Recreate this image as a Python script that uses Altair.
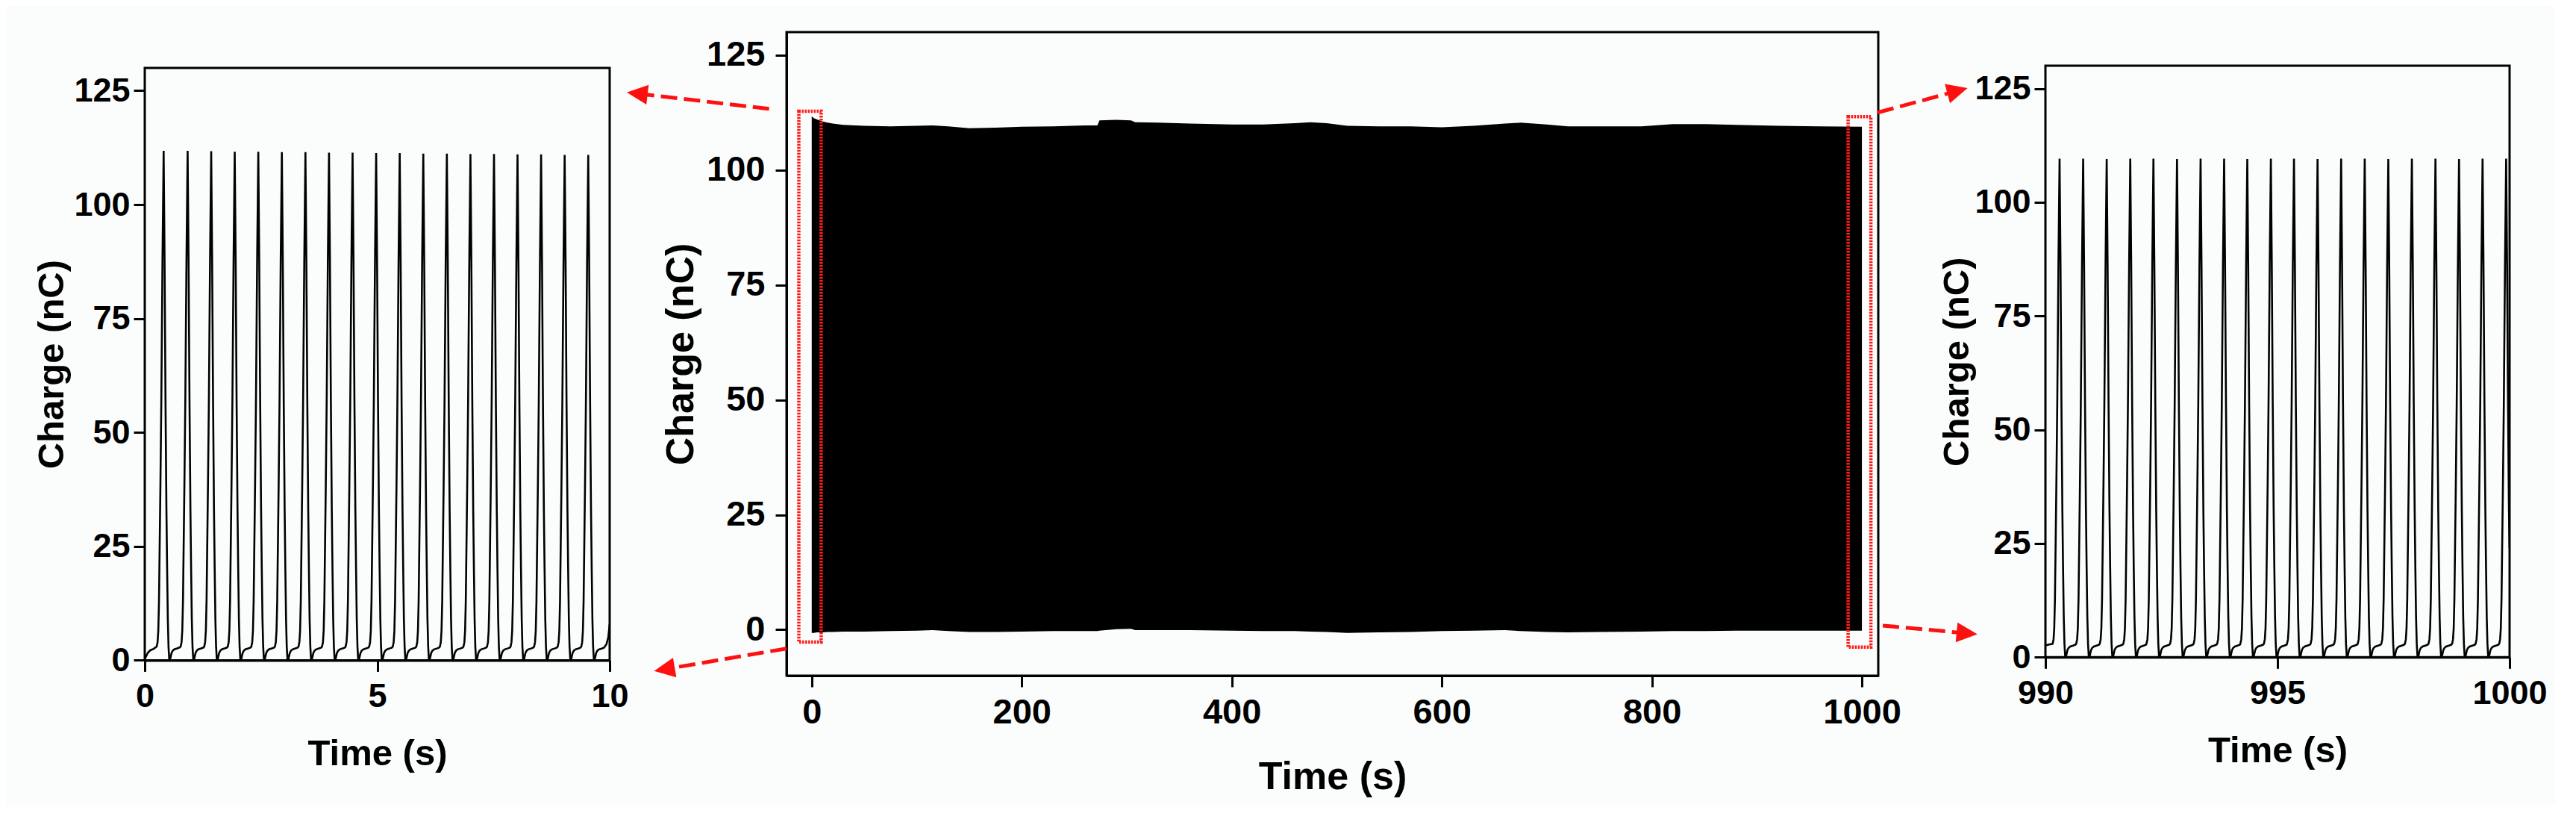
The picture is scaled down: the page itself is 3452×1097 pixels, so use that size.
import math
import altair as alt
import pandas as pd

FONT = "Liberation Sans"

# ---------------- values ----------------
# Left zoom panel: first 10 s (peak times in s, peak charge in nC)
left_peak_t = [0.406, 0.922, 1.429, 1.935, 2.442, 2.949, 3.456, 3.963, 4.470, 4.977,
               5.484, 5.991, 6.498, 7.005, 7.512, 8.018, 8.525, 9.032, 9.539]
left_peak_q = [111.8, 111.8, 111.7, 111.6, 111.6, 111.5, 111.5, 111.4, 111.4, 111.3,
               111.3, 111.2, 111.2, 111.1, 111.1, 111.0, 111.0, 110.9, 110.9]
left_lead_t = [0.00, 0.03, 0.07, 0.12, 0.19]
left_lead_q = [0.3, 0.9, 1.7, 2.2, 2.5]
left_tail_t = [9.93, 9.97, 10.0]
left_tail_q = [3.5, 5.0, 8.0]

# Right zoom panel: last 10 s
right_peak_t = [990.305, 990.813, 991.320, 991.828, 992.327, 992.835, 993.343, 993.850,
                994.349, 994.857, 995.355, 995.863, 996.371, 996.879, 997.387, 997.895,
                998.403, 998.911, 999.418, 999.926]
right_peak_q = [109.6, 109.6, 109.5, 109.6, 109.6, 109.5, 109.6, 109.6, 109.5, 109.6,
                109.6, 109.5, 109.6, 109.6, 109.5, 109.6, 109.6, 109.5, 109.6, 109.6]
right_lead_t = [990.0, 990.08]
right_lead_q = [2.6, 2.8]
right_tail_t = [1000.0]
right_tail_q = [24.0]

# Shape of one charge cycle around its peak (s from peak, nC), read for a 111.8 nC peak
cycle_dt = [-0.150, -0.130, -0.115, -0.100, -0.088, -0.070, -0.050, -0.025, 0.0,
            0.020, 0.040, 0.060, 0.075, 0.090, 0.105, 0.120, 0.135, 0.150, 0.170,
            0.195, 0.230, 0.290, 0.340]
cycle_q = [3.0, 4.0, 6.5, 13.0, 23.0, 38.0, 57.0, 88.0, 111.8,
           88.0, 57.0, 33.0, 20.0, 9.0, 3.0, 0.3, 0.0, 0.7, 1.6,
           2.1, 2.4, 2.6, 2.8]
CYCLE_REF = 111.8

# Middle panel: envelope of the dense 1000 s record
mid_t = [0, 2, 5, 10, 15, 20, 30, 50, 75, 100, 115, 130, 150, 175, 200, 230, 260, 272,
         274, 290, 304, 308, 330, 360, 400, 430, 460, 475, 490, 510, 540, 570, 600, 630,
         660, 675, 700, 720, 750, 790, 820, 850, 880, 920, 960, 1000]
mid_upper = [111.7, 111.3, 111.0, 110.6, 110.3, 110.1, 109.8, 109.6, 109.5, 109.6, 109.7,
             109.5, 109.1, 109.2, 109.4, 109.5, 109.7, 109.7, 110.8, 110.9, 110.8, 110.4,
             110.3, 110.1, 109.9, 109.9, 110.2, 110.4, 110.2, 109.6, 109.5, 109.5, 109.3,
             109.6, 110.1, 110.3, 109.9, 109.5, 109.5, 109.5, 110.0, 110.0, 109.8, 109.6,
             109.5, 109.4]
mid_lower = [-0.7, -0.7, -0.6, -0.6, -0.5, -0.5, -0.4, -0.4, -0.3, -0.2, -0.1, -0.3, -0.5,
             -0.5, -0.4, -0.3, -0.3, -0.3, -0.2, 0.1, 0.2, -0.1, -0.1, -0.1, -0.2, -0.3,
             -0.3, -0.4, -0.5, -0.7, -0.6, -0.5, -0.3, -0.2, -0.1, -0.3, -0.5, -0.6, -0.5,
             -0.4, -0.3, -0.3, -0.2, -0.2, -0.2, -0.2]

# Red dotted zoom boxes on the middle panel (s, nC)
box_x0 = [-12.3, 986.9]
box_x1 = [9.0, 1008.6]
box_y0 = [-2.7, -3.8]
box_y1 = [112.8, 111.6]

# Red dashed arrows, in the middle panel's units (start at the box, tip outside)
arrow_x0 = [-40.6, -24.0, 1015.0, 1019.9]
arrow_y0 = [113.3, -4.1, 112.5, 0.9]
arrow_x1 = [-176.1, -150.1, 1100.6, 1110.0]
arrow_y1 = [116.9, -9.0, 117.8, -1.0]

# ---------------- layout (pixels) ----------------
LEFT_W, MID_W, RIGHT_W = 623, 1463, 622
MID_H = 862
# side panels: frame height and empty room above the frame (top-aligned row)
SIDE_FRAME_L, SIDE_GAP_L = 793.5, 47.9
SIDE_FRAME_R, SIDE_GAP_R = 792.2, 45.1
GAP_A, GAP_B = 237, 224
MID_XDOM = [-24.0, 1015.6]
MID_YDOM = [-10, 130]
SIDE_YMAX = 130
HEAD = 28.0


def trace(peak_t, peak_q, lead_t, lead_q, tail_t, tail_q):
    ts, qs = list(lead_t), list(lead_q)
    for p, h in zip(peak_t, peak_q):
        for d, q in zip(cycle_dt, cycle_q):
            t = p + d
            if lead_t[-1] < t < tail_t[0]:
                ts.append(t)
                qs.append(q * h / CYCLE_REF)
    ts += list(tail_t)
    qs += list(tail_q)
    return pd.DataFrame({"t": ts, "q": qs}).sort_values("t")


left_df = trace(left_peak_t, left_peak_q, left_lead_t, left_lead_q, left_tail_t, left_tail_q)
right_df = trace(right_peak_t, right_peak_q, right_lead_t, right_lead_q, right_tail_t, right_tail_q)
mid_df = pd.DataFrame({"t": mid_t, "hi": mid_upper, "lo": mid_lower})
box_df = pd.DataFrame({"x0": box_x0, "x1": box_x1, "y0": box_y0, "y1": box_y1})

mx = MID_W / (MID_XDOM[1] - MID_XDOM[0])
my = MID_H / (MID_YDOM[1] - MID_YDOM[0])
rows = []
for x0, y0, x1, y1 in zip(arrow_x0, arrow_y0, arrow_x1, arrow_y1):
    dxs = (x1 - x0) * mx
    dys = -(y1 - y0) * my
    L = math.hypot(dxs, dys)
    fb = HEAD * 0.85 / L
    fc = HEAD * 0.5 / L
    rows.append({
        "x0": x0, "y0": y0,
        "xb": x1 + fb * (x0 - x1), "yb": y1 + fb * (y0 - y1),
        "xc": x1 + fc * (x0 - x1), "yc": y1 + fc * (y0 - y1),
        "ang": math.degrees(math.atan2(dys, dxs)) % 360,
    })
arrow_df = pd.DataFrame(rows)


def y_axis(label_size, title_size, label_pad, title_x, title_y=None, domain=True):
    kw = {}
    if title_y is not None:
        kw["titleY"] = title_y
    return alt.Axis(values=[0, 25, 50, 75, 100, 125], title="Charge (nC)", format="d",
                    labelFontSize=label_size, titleFontSize=title_size,
                    labelPadding=label_pad, titleX=title_x, titleBaseline="middle",
                    titleAngle=270, domain=domain, **kw)


def x_axis(values, label_size, title_size, title_y):
    return alt.Axis(values=values, title="Time (s)", format="d",
                    labelFontSize=label_size, titleFontSize=title_size,
                    labelPadding=11, titleY=title_y, titleBaseline="middle")


def side_panel(df, dom, vals, w, frame_h, gap, title_x, title_y):
    total_h = frame_h + gap
    ymax = SIDE_YMAX * total_h / frame_h
    xs_ = alt.Scale(domain=dom, nice=False, zero=False)
    ys_ = alt.Scale(domain=[0, ymax], nice=False)
    line = alt.Chart(df).mark_line(color="black", strokeWidth=2.6, clip=True).encode(
        x=alt.X("t:Q", scale=xs_, axis=x_axis(vals, 45, 49, title_y)),
        y=alt.Y("q:Q", scale=ys_,
                axis=y_axis(45, 49, 5, title_x, title_y=gap + frame_h / 2, domain=False)),
    )
    frame_df = pd.DataFrame({"x0": [dom[0]], "x1": [dom[1]], "y0": [0], "y1": [SIDE_YMAX]})
    frame = alt.Chart(frame_df).mark_rect(
        fillOpacity=0, stroke="black", strokeWidth=3
    ).encode(x=alt.X("x0:Q", scale=xs_), x2="x1:Q", y=alt.Y("y0:Q", scale=ys_), y2="y1:Q")
    return alt.layer(line, frame).properties(
        width=w, height=total_h, view=alt.ViewBackground(strokeOpacity=0)
    )


def spacer(w, h):
    return alt.Chart(pd.DataFrame({"s": [0]})).mark_point(opacity=0).encode(
        x=alt.value(0), y=alt.value(0)
    ).properties(width=w, height=h, view=alt.ViewBackground(strokeOpacity=0))


left = side_panel(left_df, [0, 10], [0, 5, 10], LEFT_W, SIDE_FRAME_L, SIDE_GAP_L, -124.6, 124.6)
right = side_panel(right_df, [990, 1000], [990, 995, 1000], RIGHT_W, SIDE_FRAME_R, SIDE_GAP_R,
                   -118.8, 125)

xs = alt.Scale(domain=MID_XDOM, nice=False, zero=False)
ys = alt.Scale(domain=MID_YDOM, nice=False)

band = alt.Chart(mid_df).mark_area(color="black", opacity=1).encode(
    x=alt.X("t:Q", scale=xs, axis=x_axis([0, 200, 400, 600, 800, 1000], 47, 52, 135)),
    y=alt.Y("hi:Q", scale=ys, axis=y_axis(47, 52, 14, -141.8)),
    y2="lo:Q",
)
boxes = alt.Chart(box_df).mark_rect(
    fillOpacity=0, stroke="#ff1a1a", strokeWidth=4.5, strokeDash=[2.5, 1.5]
).encode(x="x0:Q", x2="x1:Q", y="y0:Q", y2="y1:Q")
lines = alt.Chart(arrow_df).mark_rule(
    color="#ff1010", strokeWidth=5, strokeDash=[22, 9], clip=False
).encode(x="x0:Q", x2="xb:Q", y="y0:Q", y2="yb:Q")
heads = alt.Chart(arrow_df).mark_point(
    shape="M1,0L-1,-0.95L-1,0.95Z", filled=True, color="#ff1010", opacity=1,
    size=HEAD * HEAD, clip=False
).encode(x="xc:Q", y="yc:Q", angle=alt.Angle("ang:Q", scale=None))

mid = alt.layer(band, boxes, lines, heads).properties(width=MID_W, height=MID_H)

chart = alt.hconcat(
    left, spacer(GAP_A, 10), mid, spacer(GAP_B, 10), right,
    spacing=0, bounds="flush"
).properties(
    padding={"left": 37, "top": 32, "right": 10, "bottom": 10},
    background="#fbfdfd",
).configure_view(
    stroke="black", strokeWidth=3
).configure_axis(
    grid=False, domainColor="black", domainWidth=3, tickColor="black", tickWidth=3,
    tickSize=15, labelColor="black", titleColor="black", labelFont=FONT, titleFont=FONT,
    labelFontWeight="bold", titleFontWeight="bold", labelOverlap=False, labelFlush=False,
)

chart.save("out.html", embed_options={"renderer": "svg", "actions": False})
